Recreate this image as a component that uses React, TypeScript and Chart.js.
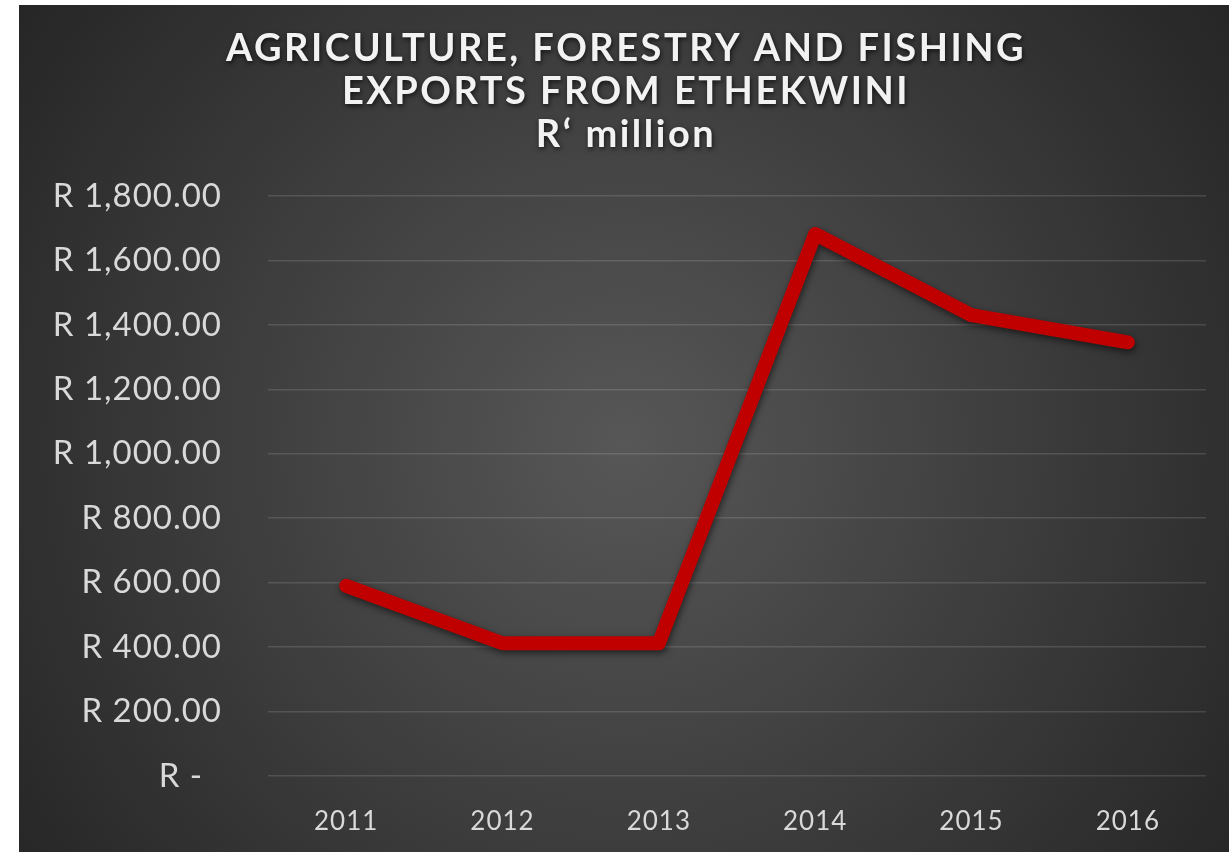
import React, { useEffect, useRef } from "react";
import { Chart, registerables } from "chart.js";

Chart.register(...registerables);

const years = ["2011", "2012", "2013", "2014", "2015", "2016"];
const exportsRm = [590, 412, 412, 1682, 1430, 1346];
const titleLines = ["AGRICULTURE, FORESTRY AND FISHING", "EXPORTS FROM ETHEKWINI", "R\u2018 million"];
const yMin = 0;
const yMax = 1800;
const yStep = 200;

const fmtY = (v: number) =>
  v === 0
    ? "R -  "
    : "R " + v.toLocaleString("en-US", { minimumFractionDigits: 2, maximumFractionDigits: 2 });

const bgPlugin = {
  id: "bgGradient",
  beforeDraw(chart: any) {
    const { ctx, width, height } = chart;
    ctx.save();
    const g = ctx.createRadialGradient(width * 0.5, height * 0.52, 0, width * 0.5, height * 0.52, 760);
    g.addColorStop(0, "#575757");
    g.addColorStop(1, "#252525");
    ctx.fillStyle = g;
    ctx.fillRect(0, 0, width, height);
    ctx.restore();
  },
};

const titlePlugin = {
  id: "customTitle",
  afterDraw(chart: any) {
    const { ctx, width } = chart;
    ctx.save();
    ctx.font = "bold 38px Lato";
    (ctx as any).letterSpacing = "2.5px";
    ctx.fillStyle = "#f2f2f2";
    ctx.textAlign = "center";
    ctx.textBaseline = "middle";
    ctx.shadowColor = "rgba(0,0,0,0.7)";
    ctx.shadowBlur = 5;
    ctx.shadowOffsetX = 1;
    ctx.shadowOffsetY = 2;
    const ys = [44, 87, 130];
    titleLines.forEach((t, i) => ctx.fillText(t, width / 2 + 2, ys[i]));
    ctx.restore();
  },
};

const shadowPlugin = {
  id: "lineShadow",
  beforeDatasetDraw(chart: any) {
    const ctx = chart.ctx;
    ctx.save();
    ctx.shadowColor = "rgba(0,0,0,0.55)";
    ctx.shadowBlur = 7;
    ctx.shadowOffsetX = 1;
    ctx.shadowOffsetY = 3;
  },
  afterDatasetDraw(chart: any) {
    chart.ctx.restore();
  },
};

const letterPlugin = {
  id: "letterSpacing",
  beforeDraw(chart: any) {
    (chart.ctx as any).letterSpacing = "1px";
  },
};

export default function App() {
  const ref = useRef<HTMLCanvasElement | null>(null);
  useEffect(() => {
    if (!ref.current) return;
    const chart = new Chart(ref.current, {
      type: "line",
      data: {
        labels: years,
        datasets: [
          {
            data: exportsRm,
            borderColor: "#C00000",
            borderWidth: 14,
            borderCapStyle: "round",
            borderJoinStyle: "round",
            pointRadius: 0,
            tension: 0,
            fill: false,
          },
        ],
      },
      options: {
        responsive: false,
        animation: false,
        devicePixelRatio: 1,
        layout: { padding: { left: 0, top: 191, right: 23, bottom: 0 } },
        plugins: { legend: { display: false }, title: { display: false }, tooltip: { enabled: false } },
        scales: {
          x: {
            offset: true,
            grid: { display: false, drawTicks: false },
            border: { display: false },
            ticks: { color: "#d9d9d9", font: { family: "Lato", size: 26 }, padding: 30 },
            afterFit: (s: any) => {
              s.height = 76;
            },
          },
          y: {
            min: yMin,
            max: yMax,
            grid: { color: "rgba(255,255,255,0.13)", lineWidth: 1.5, drawTicks: false },
            border: { display: false },
            ticks: {
              stepSize: yStep,
              color: "#d9d9d9",
              font: { family: "Lato", size: 33 },
              padding: 46,
              callback: (v: any) => fmtY(Number(v)),
            },
            afterFit: (s: any) => {
              s.width = 249;
            },
          },
        },
      },
      plugins: [bgPlugin, letterPlugin, shadowPlugin, titlePlugin],
    } as any);
    return () => chart.destroy();
  }, []);
  return (
    <div style={{ position: "fixed", left: 0, top: 0, width: 1229, height: 852, background: "#ffffff" }}>
      <canvas
        ref={ref}
        width={1210}
        height={847}
        style={{ position: "absolute", left: 19, top: 5, width: 1210, height: 847 }}
      />
    </div>
  );
}
